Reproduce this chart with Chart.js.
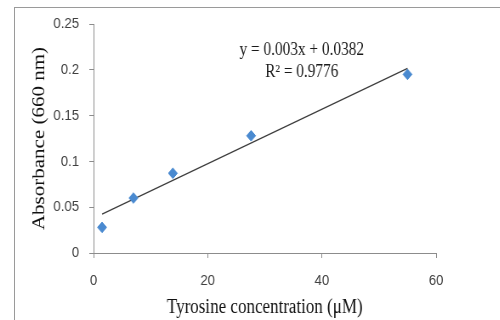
<!DOCTYPE html>
<html>
<head>
<meta charset="utf-8">
<script src="https://cdn.jsdelivr.net/npm/chart.js@4"></script>
<style>
    html, body { margin: 0; padding: 0; background: #fff; overflow: hidden; }
    #frame {
        position: absolute; left: 14px; top: 7px; width: 600px; height: 400px;
        border: 1px solid #9a9a9a;
    }
    /* the original picture is squeezed horizontally, so draw wider and squeeze */
    #wrap {
        position: absolute; left: 0; top: 0; width: 588px; height: 320px;
        transform: scaleX(0.85); transform-origin: 0 0;
    }
</style>
</head>
<body>
<div id="frame"></div>
<div id="wrap"><canvas id="scatterChart" width="588" height="320"></canvas></div>
<script>
// Tyrosine standard curve
const concentration = [1.5, 7, 13.9, 27.6, 55];
const absorbance = [0.028, 0.060, 0.087, 0.128, 0.195];
const trendX = [1.5, 55];
const trendY = [0.0424, 0.2015];
const xTicks = [0, 20, 40, 60];
const yTicks = [0, 0.05, 0.1, 0.15, 0.2, 0.25];
const equation = ['y = 0.003x + 0.0382', 'R² = 0.9776'];

document.addEventListener('DOMContentLoaded', () => {
    const ctx = document.getElementById('scatterChart');

    const equationLabel = {
        id: 'equationLabel',
        afterDatasetsDraw(chart) {
            const c = chart.ctx;
            c.save();
            c.font = '18px "Liberation Serif", "Times New Roman", serif';
            c.fillStyle = '#1a1a1a';
            c.textAlign = 'center';
            c.textBaseline = 'middle';
            c.fillText(equation[0], 355, 50);
            c.fillText(equation[1], 355, 72);
            c.restore();
        }
    };

    const axisColor = '#8c8c8c';
    const tickFont = { family: '"Liberation Sans", Arial, sans-serif', size: 15.5 };

    new Chart(ctx.getContext('2d'), {
        type: 'scatter',
        data: {
            datasets: [
                {
                    data: concentration.map((x, i) => ({ x, y: absorbance[i] })),
                    pointStyle: 'rectRot',
                    pointRadius: 5.3,
                    pointHoverRadius: 5.3,
                    backgroundColor: '#4a8ad0',
                    borderColor: '#4a8ad0',
                    borderWidth: 1,
                    order: 1
                },
                {
                    type: 'line',
                    data: trendX.map((x, i) => ({ x, y: trendY[i] })),
                    borderColor: '#3a3a3a',
                    borderWidth: 1.2,
                    pointRadius: 0,
                    fill: false,
                    order: 2
                }
            ]
        },
        options: {
            responsive: false,
            animation: false,
            layout: { padding: { left: 0, top: 24, right: 75, bottom: 0 } },
            plugins: {
                legend: { display: false },
                tooltip: { enabled: false }
            },
            scales: {
                x: {
                    type: 'linear',
                    min: 0,
                    max: 60,
                    afterFit: (s) => { s.height = 67; },
                    afterBuildTicks: (s) => { s.ticks = xTicks.map(v => ({ value: v })); },
                    grid: { drawOnChartArea: false, drawTicks: true, tickLength: 5, color: axisColor },
                    border: { color: axisColor, width: 1 },
                    ticks: { color: '#404040', font: tickFont, padding: 13 },
                    title: {
                        display: true,
                        text: 'Tyrosine concentration (μM)',
                        color: '#111',
                        font: { family: '"Liberation Serif", "Times New Roman", serif', size: 20 },
                        padding: { top: 0, bottom: 0 }
                    }
                },
                y: {
                    min: 0,
                    max: 0.25,
                    afterFit: (s) => { s.width = 110; },
                    afterBuildTicks: (s) => { s.ticks = yTicks.map(v => ({ value: v })); },
                    grid: { drawOnChartArea: false, drawTicks: true, tickLength: 5, color: axisColor },
                    border: { color: axisColor, width: 1 },
                    ticks: {
                        color: '#404040',
                        font: tickFont,
                        padding: 12,
                        callback: (v) => String(Math.round(v * 100) / 100)
                    },
                    title: {
                        display: true,
                        text: 'Absorbance (660 nm)',
                        color: '#111',
                        font: { family: '"Liberation Serif", "Times New Roman", serif', size: 21 },
                        padding: { top: 34, bottom: 0 }
                    }
                }
            }
        },
        plugins: [equationLabel]
    });
});
</script>
</body>
</html>
